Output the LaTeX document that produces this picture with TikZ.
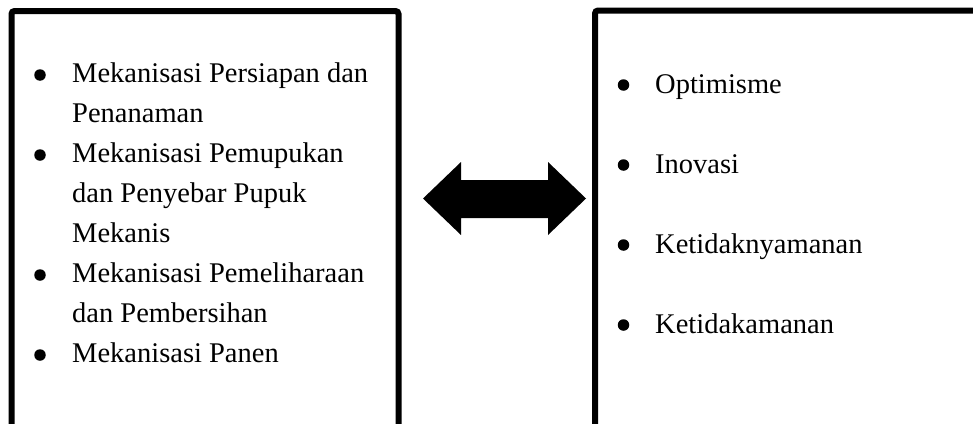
\documentclass[tikz,border=0pt]{standalone}
\usepackage{fontspec}
\setmainfont{Liberation Serif}
\begin{document}
\begin{tikzpicture}[x=1pt,y=-1pt,
  frame/.style={line width=6pt, rounded corners=3pt, draw=black},
  itemtext/.style={anchor=base west, inner sep=0pt, font=\fontsize{28.5}{40}\selectfont},
  bul/.style={circle, fill=black, inner sep=0pt, minimum size=11.5pt},
  bigarrow/.style={fill=black}]
\useasboundingbox (0,0) rectangle (973,423);
\begin{scope}
\clip (0,0) rectangle (973,423);
\draw[frame] (11.5,440) -- (11.5,11) -- (398.5,11) -- (398.5,440);
\draw[frame] (595,440) -- (595,10.5) -- (990,10.5);
\end{scope}
% left list
\node[itemtext] (l1) at (72,82) {Mekanisasi Persiapan dan};
\node[itemtext] (l2) at (72,122) {Penanaman};
\node[itemtext] (l3) at (72,162) {Mekanisasi Pemupukan};
\node[itemtext] (l4) at (72,202) {dan Penyebar Pupuk};
\node[itemtext] (l5) at (72,242) {Mekanis};
\node[itemtext] (l6) at (72,282) {Mekanisasi Pemeliharaan};
\node[itemtext] (l7) at (72,322) {dan Pembersihan};
\node[itemtext] (l8) at (72,362) {Mekanisasi Panen};
\node[bul] (b1) at (40,75) {};
\node[bul] (b2) at (40,155) {};
\node[bul] (b3) at (40,275) {};
\node[bul] (b4) at (40,355) {};
% right list
\node[itemtext] (r1) at (655,93) {Optimisme};
\node[itemtext] (r2) at (655,173) {Inovasi};
\node[itemtext] (r3) at (655,253) {Ketidaknyamanan};
\node[itemtext] (r4) at (655,333) {Ketidakamanan};
\node[bul] (c1) at (623.5,85) {};
\node[bul] (c2) at (623.5,165) {};
\node[bul] (c3) at (623.5,245) {};
\node[bul] (c4) at (623.5,325) {};
% double arrow
\fill[bigarrow] (423,198.5) -- (461,162) -- (461,180) -- (548,180) -- (548,162)
  -- (586,198.5) -- (548,235) -- (548,218) -- (461,218) -- (461,235) -- cycle;
\end{tikzpicture}
\end{document}
